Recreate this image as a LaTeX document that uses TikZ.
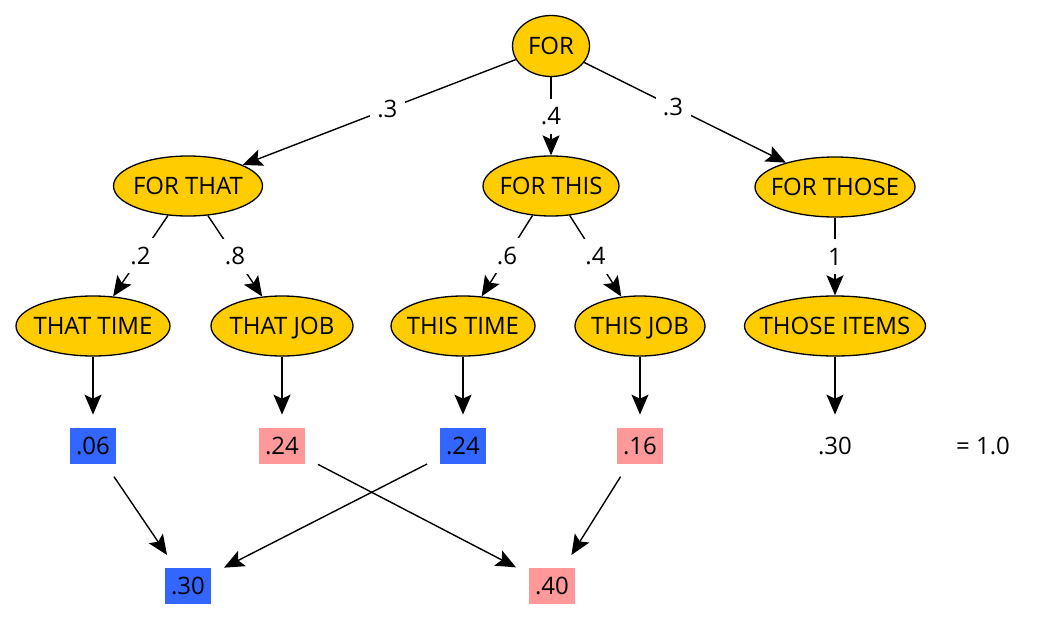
\documentclass[tikz,border=0pt]{standalone}
\usepackage{fontspec}
\setmainfont{Open Sans}
\usetikzlibrary{positioning, arrows.meta, shapes.geometric}
\definecolor{gold}{RGB}{255,204,0}
\definecolor{blueprob}{RGB}{51,102,255}
\definecolor{pinkprob}{RGB}{255,153,153}

\begin{document}
\begin{tikzpicture}[x=1pt, y=-1pt,
    every node/.style={font=\fontsize{24}{29}\selectfont},
    phrase/.style={ellipse, draw, line width=1.3pt, fill=gold, inner xsep=-30pt, inner ysep=-15pt, minimum height=60pt, text height=17pt, text depth=0pt},
    prob/.style={rectangle, inner sep=0pt, minimum width=46pt, minimum height=36pt, outer sep=13pt},
    weight/.style={fill=white, inner sep=0pt, minimum size=35pt},
    link/.style={line width=1.4pt, -{Stealth[length=20pt, width=17pt, inset=4pt]}}]
    \useasboundingbox (0,0) rectangle (1046,634);
    % first word and its continuations
    \node (for) [phrase, minimum width=77pt, minimum height=61pt] at (551,46) {FOR};
    \node (forthat) [phrase, minimum width=149pt] at (188,186) {FOR THAT};
    \node (forthis) [phrase, minimum width=136pt] at (551,186) {FOR THIS};
    \node (forthose) [phrase, minimum width=160pt] at (835,187) {FOR THOSE};
    \node (thattime) [phrase, minimum width=154pt] at (93,326) {THAT TIME};
    \node (thatjob) [phrase, minimum width=142pt] at (282,326) {THAT JOB};
    \node (thistime) [phrase, minimum width=144pt] at (463,326) {THIS TIME};
    \node (thisjob) [phrase, minimum width=130pt] at (640,326) {THIS JOB};
    \node (thoseitems) [phrase, minimum width=181pt] at (835,326) {THOSE ITEMS};
    % path probabilities
    \node (pthattime) [prob, fill=blueprob, below=58pt of thattime] {.06};
    \node (pthatjob) [prob, fill=pinkprob, below=58pt of thatjob] {.24};
    \node (pthistime) [prob, fill=blueprob, below=58pt of thistime] {.24};
    \node (pthisjob) [prob, fill=pinkprob, below=58pt of thisjob] {.16};
    \node (pthoseitems) [prob, below=58pt of thoseitems] {.30};
    \node (total) at (983,446) {= 1.0};
    \node (ptime) [prob, fill=blueprob] at (188,586) {.30};
    \node (pjob) [prob, fill=pinkprob] at (552,586) {.40};
    % weighted edges
    \draw [link] (for) -- (forthat) node [weight, pos=0.47] {.3};
    \draw [link] (for) -- (forthis) node [weight, midway] {.4};
    \draw [link] (for) -- (forthose) node [weight, pos=0.44] {.3};
    \draw [link] (forthat) -- (thattime) node [weight, midway] {.2};
    \draw [link] (forthat) -- (thatjob) node [weight, midway] {.8};
    \draw [link] (forthis) -- (thistime) node [weight, midway] {.6};
    \draw [link] (forthis) -- (thisjob) node [weight, midway] {.4};
    \draw [link] (forthose) -- (thoseitems) node [weight, midway] {1};
    \foreach \w in {thattime, thatjob, thistime, thisjob, thoseitems}
        \draw [link] (\w) -- (p\w);
    \draw [link] (pthattime) -- (ptime);
    \draw [link] (pthistime) -- (ptime);
    \draw [link] (pthatjob) -- (pjob);
    \draw [link] (pthisjob) -- (pjob);
\end{tikzpicture}
\end{document}
